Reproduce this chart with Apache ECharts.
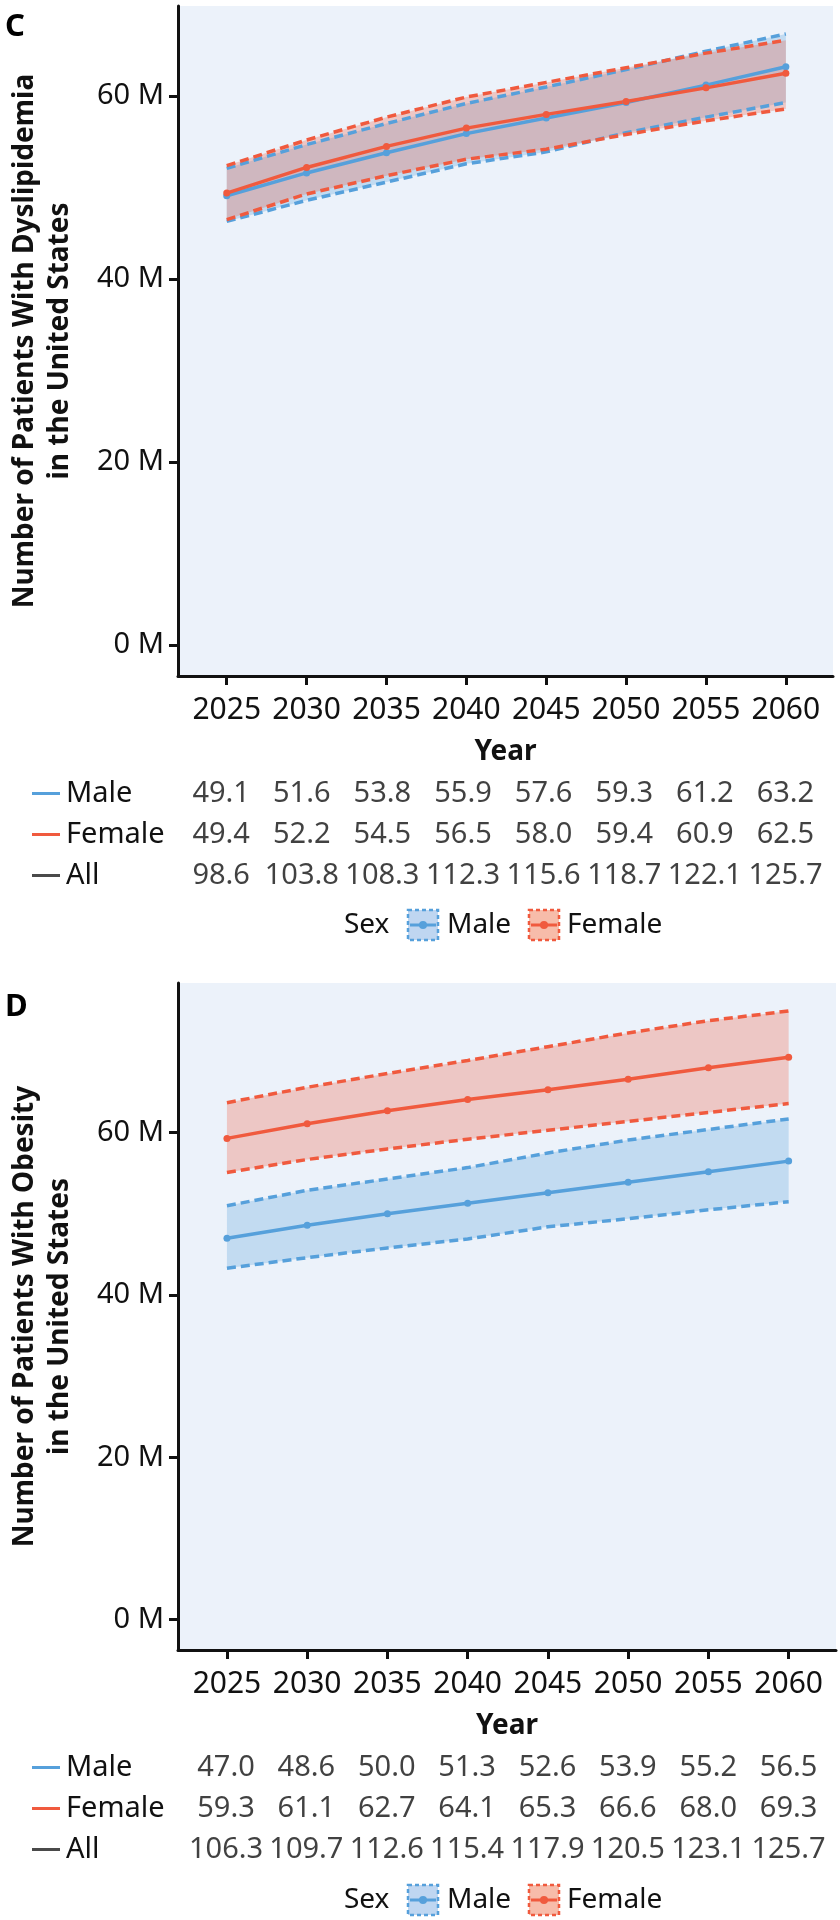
<!DOCTYPE html>
<html lang="en">
<head>
<meta charset="UTF-8">
<title>Projected patients with dyslipidemia and obesity by sex</title>
<style>
    html, body { margin: 0; padding: 0; background: #fff; }
    #chart { width: 840px; height: 1920px; }
</style>
</head>
<body>
<div id="chart"></div>
<script src="https://cdn.jsdelivr.net/npm/echarts@6/dist/echarts.min.js"></script>
<script>
    // shared categories / ticks
    const years = [2025, 2030, 2035, 2040, 2045, 2050, 2055, 2060];
    const yTicks = [0, 20, 40, 60];
    const rowNames = ['Male', 'Female', 'All'];

    // panel C - dyslipidemia, millions
    const dysMale = [49.1, 51.6, 53.8, 55.9, 57.6, 59.3, 61.2, 63.2];
    const dysMaleLow = [46.3, 48.6, 50.6, 52.6, 53.9, 56.0, 57.7, 59.3];
    const dysMaleUp = [52.1, 54.7, 57.0, 59.2, 61.0, 62.9, 64.9, 66.8];
    const dysFemale = [49.4, 52.2, 54.5, 56.5, 58.0, 59.4, 60.9, 62.5];
    const dysFemaleLow = [46.5, 49.3, 51.3, 53.1, 54.2, 55.8, 57.3, 58.6];
    const dysFemaleUp = [52.4, 55.2, 57.7, 59.9, 61.5, 63.1, 64.7, 66.1];
    const dysAll = [98.6, 103.8, 108.3, 112.3, 115.6, 118.7, 122.1, 125.7];

    // panel D - obesity, millions
    const obMale = [47.0, 48.6, 50.0, 51.3, 52.6, 53.9, 55.2, 56.5];
    const obMaleLow = [43.3, 44.6, 45.8, 46.9, 48.4, 49.4, 50.5, 51.5];
    const obMaleUp = [51.0, 52.9, 54.3, 55.7, 57.5, 59.1, 60.4, 61.7];
    const obFemale = [59.3, 61.1, 62.7, 64.1, 65.3, 66.6, 68.0, 69.3];
    const obFemaleLow = [55.1, 56.7, 58.0, 59.2, 60.3, 61.4, 62.5, 63.6];
    const obFemaleUp = [63.7, 65.6, 67.3, 68.9, 70.6, 72.3, 73.8, 75.0];
    const obAll = [106.3, 109.7, 112.6, 115.4, 117.9, 120.5, 123.1, 125.7];

    const FONT = '"Noto Sans", "Liberation Sans", sans-serif';
    const INK = '#111111';
    const BLUE = '#56a0db';
    const RED = '#f05a3e';
    const GREY = '#4a4a4a';
    const BG = '#ecf2fa';

    const panels = [
        {
            tag: 'C', title: 'Number of Patients With Dyslipidemia\nin the United States',
            male: dysMale, maleLow: dysMaleLow, maleUp: dysMaleUp,
            female: dysFemale, femaleLow: dysFemaleLow, femaleUp: dysFemaleUp, all: dysAll,
            plot: {left: 172, top: 6, width: 661, height: 670}, yMin: -3.4, yMax: 69.85,
            tableTop: 773, legendY: 925, tagY: 12
        },
        {
            tag: 'D', title: 'Number of Patients With Obesity\nin the United States',
            male: obMale, maleLow: obMaleLow, maleUp: obMaleUp,
            female: obFemale, femaleLow: obFemaleLow, femaleUp: obFemaleUp, all: obAll,
            plot: {left: 177, top: 983, width: 659, height: 667}, yMin: -3.75, yMax: 78.45,
            tableTop: 1747, legendY: 1900, tagY: 992
        }
    ];

    const grid = [], xAxis = [], yAxis = [], series = [], graphic = [];

    function band(ai, low, up, color) {
        return {
            type: 'custom', xAxisIndex: ai, yAxisIndex: ai, silent: true, z: 1,
            data: years.map((y, i) => [y, low[i], up[i]]),
            encode: {x: 0, y: [1, 2]},
            renderItem: (params, api) => {
                if (params.dataIndex !== 0) return;
                let pts = years.map((y, i) => api.coord([y, up[i]]));
                for (let i = years.length - 1; i >= 0; i--) pts.push(api.coord([years[i], low[i]]));
                return {type: 'polygon', shape: {points: pts}, style: {fill: color}};
            }
        };
    }

    function dashed(ai, vals, color) {
        return {
            type: 'line', xAxisIndex: ai, yAxisIndex: ai, silent: true, z: 3,
            data: years.map((y, i) => [y, vals[i]]),
            showSymbol: false,
            lineStyle: {color: color, width: 3.5, type: [9, 5]}
        };
    }

    function solid(ai, vals, color) {
        return {
            type: 'line', xAxisIndex: ai, yAxisIndex: ai, silent: true, z: 4,
            data: years.map((y, i) => [y, vals[i]]),
            symbol: 'circle', symbolSize: 7,
            itemStyle: {color: color},
            lineStyle: {color: color, width: 3.5}
        };
    }

    panels.forEach((p, k) => {
        let ai = k * 2, ti = k * 2 + 1;

        grid.push(Object.assign({show: true, backgroundColor: BG, borderWidth: 0}, p.plot));
        grid.push({left: p.plot.left, top: p.tableTop, width: p.plot.width, height: 123});

        xAxis.push({
            type: 'value', gridIndex: ai, min: 2021.95, max: 2062.95,
            axisLine: {onZero: false, lineStyle: {color: INK, width: 3}},
            axisTick: {customValues: years, length: 9, lineStyle: {color: INK, width: 3}},
            axisLabel: {customValues: years, formatter: v => String(v), fontSize: 30, margin: 19, color: INK, fontFamily: FONT},
            splitLine: {show: false},
            name: 'Year', nameLocation: 'middle', nameGap: 62,
            nameTextStyle: {fontSize: 28, fontWeight: 'bold', color: INK, fontFamily: FONT}
        });
        xAxis.push({type: 'value', gridIndex: ti, min: 2021.95, max: 2062.95, show: false});

        yAxis.push({
            type: 'value', gridIndex: ai, min: p.yMin, max: p.yMax,
            axisLine: {show: true, onZero: false, lineStyle: {color: INK, width: 3}},
            axisTick: {show: true, customValues: yTicks, length: 9, lineStyle: {color: INK, width: 3}},
            axisLabel: {customValues: yTicks, formatter: v => v + ' M', fontSize: 29, margin: 14, color: INK, fontFamily: FONT},
            splitLine: {show: false},
            name: p.title, nameLocation: 'middle', nameRotate: 90, nameGap: 100,
            nameTextStyle: {fontSize: 28, fontWeight: 'bold', lineHeight: 35, color: INK, fontFamily: FONT}
        });
        yAxis.push({
            type: 'category', gridIndex: ti, data: rowNames, inverse: true,
            axisLine: {show: false}, axisTick: {show: false}, splitLine: {show: false},
            axisLabel: {
                interval: 0, align: 'left', margin: p.plot.left - 32,
                formatter: v => '{' + v + '| }{t|' + v + '}',
                rich: {
                    Male: {width: 28, height: 3, backgroundColor: BLUE, verticalAlign: 'middle'},
                    Female: {width: 28, height: 3, backgroundColor: RED, verticalAlign: 'middle'},
                    All: {width: 28, height: 3, backgroundColor: GREY, verticalAlign: 'middle'},
                    t: {fontSize: 29, color: INK, fontFamily: FONT, padding: [0, 0, 0, 6], verticalAlign: 'middle'}
                }
            }
        });

        series.push(band(ai, p.maleLow, p.maleUp, 'rgba(86,160,219,0.28)'));
        series.push(band(ai, p.femaleLow, p.femaleUp, 'rgba(240,90,62,0.28)'));
        series.push(dashed(ai, p.maleLow, BLUE), dashed(ai, p.maleUp, BLUE));
        series.push(dashed(ai, p.femaleLow, RED), dashed(ai, p.femaleUp, RED));
        series.push(solid(ai, p.male, BLUE), solid(ai, p.female, RED));

        [p.male, p.female, p.all].forEach((vals, r) => {
            series.push({
                type: 'scatter', xAxisIndex: ti, yAxisIndex: ti, silent: true,
                data: years.map((y, i) => [y, rowNames[r], vals[i]]),
                symbolSize: 1, itemStyle: {color: 'transparent'},
                label: {
                    show: true, position: 'inside', formatter: q => q.value[2].toFixed(1),
                    fontSize: 29, color: INK, fontFamily: FONT
                }
            });
        });

        // panel tag
        graphic.push({
            type: 'text', left: 5, top: p.tagY,
            style: {text: p.tag, fontSize: 31, fontWeight: 'bold', fill: '#000', fontFamily: FONT}
        });

        // legend keys
        let ly = p.legendY;
        graphic.push({
            type: 'group', children: [
                {type: 'text', x: 344, y: ly, style: {text: 'Sex', fontSize: 28, fill: INK, fontFamily: FONT, verticalAlign: 'middle'}},
                {type: 'rect', shape: {x: 408, y: ly - 15, width: 30, height: 30}, style: {fill: '#bfd6f1', stroke: BLUE, lineWidth: 2.5, lineDash: [4, 3]}},
                {type: 'line', shape: {x1: 410, y1: ly, x2: 436, y2: ly}, style: {stroke: BLUE, lineWidth: 3}},
                {type: 'circle', shape: {cx: 423, cy: ly, r: 4}, style: {fill: BLUE}},
                {type: 'text', x: 447, y: ly, style: {text: 'Male', fontSize: 28, fill: INK, fontFamily: FONT, verticalAlign: 'middle'}},
                {type: 'rect', shape: {x: 529, y: ly - 15, width: 30, height: 30}, style: {fill: '#f7bcaa', stroke: RED, lineWidth: 2.5, lineDash: [4, 3]}},
                {type: 'line', shape: {x1: 531, y1: ly, x2: 557, y2: ly}, style: {stroke: RED, lineWidth: 3}},
                {type: 'circle', shape: {cx: 544, cy: ly, r: 4}, style: {fill: RED}},
                {type: 'text', x: 567, y: ly, style: {text: 'Female', fontSize: 28, fill: INK, fontFamily: FONT, verticalAlign: 'middle'}}
            ]
        });
    });

    let myChart = echarts.init(document.getElementById('chart'));
    myChart.setOption({
        animation: false,
        textStyle: {fontFamily: FONT},
        grid: grid,
        xAxis: xAxis,
        yAxis: yAxis,
        series: series,
        graphic: graphic
    });
</script>
</body>
</html>
